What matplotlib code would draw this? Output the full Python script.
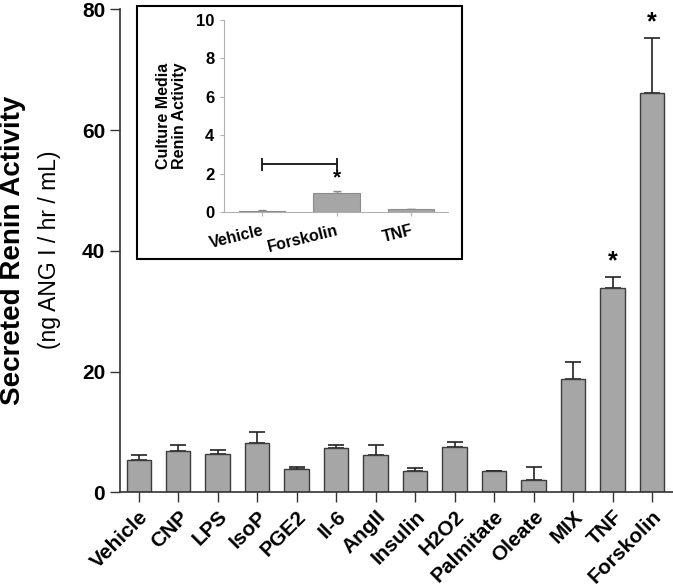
import numpy as np
import matplotlib
matplotlib.use("Agg")
import matplotlib.pyplot as plt
from matplotlib.patches import Rectangle
from matplotlib.transforms import ScaledTranslation

plt.rcParams['font.family'] = ['Liberation Sans', 'DejaVu Sans']

# main panel data
treatments = ['Vehicle', 'CNP', 'LPS', 'IsoP', 'PGE2', 'Il-6', 'AngII', 'Insulin',
              'H2O2', 'Palmitate', 'Oleate', 'MIX', 'TNF', 'Forskolin']
renin = [5.4, 6.8, 6.4, 8.2, 3.8, 7.4, 6.1, 3.5, 7.5, 3.5, 2.0, 18.8, 33.9, 66.1]
renin_err = [0.7, 1.1, 0.6, 1.7, 0.35, 0.5, 1.8, 0.5, 0.9, 0.1, 2.1, 2.7, 1.7, 9.1]
starred = ['TNF', 'Forskolin']

# inset data
inset_groups = ['Vehicle', 'Forskolin', 'TNF']
inset_renin = [0.08, 1.0, 0.16]
inset_err = [0.02, 0.09, 0.02]

bar_color = '#a6a6a6'
edge_color = '#3c3c3c'

fig = plt.figure(figsize=(6.73, 5.86), dpi=100)
ax = fig.add_axes([0.178, 0.160, 0.822, 0.824])

x = np.arange(len(treatments))
ax.bar(x, renin, width=0.62, color=bar_color, edgecolor=edge_color, linewidth=1.0, zorder=2)
ax.errorbar(x, renin, yerr=[np.zeros(len(renin)), renin_err], fmt='none',
            ecolor='#222222', elinewidth=1.2, capsize=6, capthick=1.2, zorder=1)
for name in starred:
    i = treatments.index(name)
    ax.text(i, renin[i] + renin_err[i] + 0.6, '*', ha='center', va='bottom',
            fontsize=18, fontweight='bold')

ax.set_xlim(-0.48, 13.53)
ax.set_ylim(0, 80)
ax.set_yticks([0, 20, 40, 60, 80])
ax.set_xticks(x)
ax.set_xticklabels(treatments, rotation=45, ha='right', rotation_mode='anchor',
                   fontsize=15, fontweight='bold')
# labels sit a little right of their ticks in the original
shift = ScaledTranslation(5 / 100, 0, fig.dpi_scale_trans)
for lbl in ax.get_xticklabels():
    lbl.set_transform(lbl.get_transform() + shift)
for lbl in ax.get_yticklabels():
    lbl.set_fontsize(15)
    lbl.set_fontweight('bold')
for side in ['top', 'right']:
    ax.spines[side].set_visible(False)
for side in ['left', 'bottom']:
    ax.spines[side].set_color('#333333')
    ax.spines[side].set_linewidth(1.2)
ax.tick_params(axis='both', direction='out', length=7, width=1.0, color='#333333')

fig.text(0.019, 0.573, 'Secreted Renin Activity', rotation=90, ha='center', va='center',
         fontsize=20, fontweight='bold')
fig.text(0.073, 0.573, '(ng ANG I / hr / mL)', rotation=90, ha='center', va='center',
         fontsize=16.5)

# inset frame
frame = Rectangle((137 / 673, 1 - 259 / 586), 325 / 673, 253 / 586, transform=fig.transFigure,
                  facecolor='white', edgecolor='black', linewidth=1.5, zorder=1)
fig.patches.append(frame)

axi = fig.add_axes([0.333, 0.638, 0.333, 0.328], zorder=2)
axi.patch.set_alpha(0)
xi = np.arange(len(inset_groups))
axi.bar(xi, inset_renin, width=0.62, color=bar_color, edgecolor='#8c8c8c', linewidth=0.8, zorder=2)
axi.errorbar(xi, inset_renin, yerr=[np.zeros(3), inset_err], fmt='none', ecolor='#8c8c8c',
             elinewidth=1, capsize=3, zorder=1)
axi.plot([0, 1], [2.48, 2.48], color='#222222', linewidth=1.4)
axi.plot([0, 0], [2.19, 2.75], color='#222222', linewidth=1.4)
axi.plot([1, 1], [2.19, 2.75], color='#222222', linewidth=1.4)
axi.text(1, 1.3, '*', ha='center', va='bottom', fontsize=15, fontweight='bold')
axi.set_xlim(-0.51, 2.5)
axi.set_ylim(0, 10)
axi.set_yticks([0, 2, 4, 6, 8, 10])
axi.set_xticks(xi)
axi.set_xticklabels(inset_groups, rotation=14, ha='right', rotation_mode='anchor',
                    fontsize=11.5, fontweight='bold')
for lbl in axi.get_yticklabels():
    lbl.set_fontsize(12)
    lbl.set_fontweight('bold')
for side in ['top', 'right']:
    axi.spines[side].set_visible(False)
for side in ['left', 'bottom']:
    axi.spines[side].set_color('#b0b0b0')
axi.tick_params(axis='both', direction='out', length=3, color='#b0b0b0', pad=4)
axi.tick_params(axis='x', pad=5)
axi.set_ylabel('Culture Media\nRenin Activity', fontsize=11.5, fontweight='bold', labelpad=6.5,
               linespacing=1.1)

fig.savefig('out.png', dpi=100)
